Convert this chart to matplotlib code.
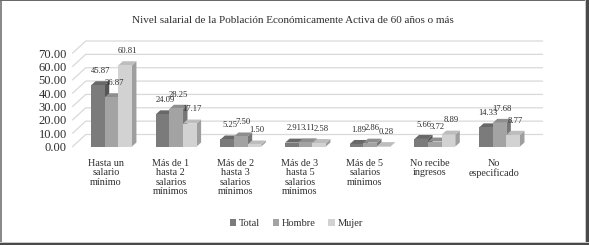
import matplotlib
matplotlib.use("Agg")
import matplotlib.pyplot as plt
from matplotlib.patches import Polygon, Rectangle
from matplotlib.lines import Line2D
import numpy as np

title = "Nivel salarial de la Población Económicamente Activa de 60 años o más"
categories = ["Hasta un\nsalario\nmínimo",
              "Más de 1\nhasta 2\nsalarios\nmínimos",
              "Más de 2\nhasta 3\nsalarios\nmínimos",
              "Más de 3\nhasta 5\nsalarios\nmínimos",
              "Más de 5\nsalarios\nmínimos",
              "No recibe\ningresos",
              "No\nespecificado"]
series_names = ["Total", "Hombre", "Mujer"]
total = [45.87, 24.09, 5.25, 2.91, 1.89, 5.66, 14.33]
hombre = [36.87, 28.25, 7.50, 3.11, 2.86, 3.72, 17.68]
mujer = [60.81, 17.17, 1.50, 2.58, 0.28, 8.89, 8.77]
yticks = [0, 10, 20, 30, 40, 50, 60, 70]

series = [total, hombre, mujer]
front_cols = ["#7b7b7b", "#a3a3a3", "#d2d2d2"]
top_cols = ["#686868", "#8e8e8e", "#bdbdbd"]
side_cols = ["#555555", "#767676", "#9e9e9e"]
txt = "#2e2e2e"
serif = ["Liberation Serif", "DejaVu Serif"]

W, H = 589, 245
fig = plt.figure(figsize=(W / 100, H / 100), dpi=100)

ax_left, ax_w = 73.7, 452.7
ax_bot_px, ax_top_px = 146.5, 53.0
ax = fig.add_axes([ax_left / W, (H - ax_bot_px) / H, ax_w / W, (ax_bot_px - ax_top_px) / H])
ax.set_xlim(-0.5, 6.5)
ax.set_ylim(0, 70)
for s in ax.spines.values():
    s.set_visible(False)
ax.patch.set_alpha(0)

pxx = 1.0 / (ax_w / 7)
pxy = 70.0 / (ax_bot_px - ax_top_px)

# back wall gridlines with side-wall diagonal
wall_dx, wall_dy = 13 * pxx, 12 * pxy
xL = -0.5 - 1 * pxx
xR = 6.5 + 16 * pxx
for yv in yticks:
    ax.add_line(Line2D([xL, xL + wall_dx, xR], [yv, yv + wall_dy, yv + wall_dy],
                       color="#d9d9d9", lw=0.9, clip_on=False, zorder=0))

# bars with pseudo-3D faces
n = len(categories)
x = np.arange(n)
bw = 13.6 * pxx
shift = 5.5 * pxx
ddx, ddy = 4.5 * pxx, 4 * pxy
for i in range(n):
    for k in range(3):
        v = series[k][i]
        x0 = x[i] + shift + (k - 1.5) * bw
        x1 = x0 + bw
        side = Polygon([[x1, 0], [x1 + ddx, ddy], [x1 + ddx, v + ddy], [x1, v]],
                       closed=True, fc=side_cols[k], ec="none", clip_on=False, zorder=2)
        top = Polygon([[x0, v], [x0 + ddx, v + ddy], [x1 + ddx, v + ddy], [x1, v]],
                      closed=True, fc=top_cols[k], ec="none", clip_on=False, zorder=2)
        ax.add_patch(side)
        ax.add_patch(top)
        ax.bar(x0, v, width=bw, align="edge", color=front_cols[k], zorder=2,
               clip_on=False, label=series_names[k] if i == 0 else None)
        ax.annotate(f"{v:.2f}", (x0 + bw / 2 + ddx / 2, v + ddy), xytext=(0, 4.5),
                    textcoords="offset points", ha="center", va="bottom",
                    fontsize=6.2, family=serif, color=txt, zorder=5)

ax.set_yticks(yticks)
ax.set_yticklabels([f"{t:.2f}" for t in yticks], fontsize=9, family=serif, color=txt)
ax.set_xticks(x)
ax.set_xticklabels(categories, fontsize=7.3, family=serif, color=txt, linespacing=1.05)
ax.tick_params(axis="y", length=0, pad=5)
ax.tick_params(axis="x", length=0, pad=9)

fig.text(0.497, 1 - 20.5 / H, title, ha="center", va="center", fontsize=8,
         family=serif, color=txt)

handles = [Rectangle((0, 0), 1, 1, fc=c, ec="none") for c in front_cols]
fig.legend(handles, series_names, loc="center", bbox_to_anchor=(0.503, 1 - 223.5 / H),
           ncol=3, frameon=False, prop={"family": serif, "size": 7.5},
           handlelength=0.6, handleheight=0.6, handletextpad=0.3, columnspacing=1.2,
           labelcolor=txt)

# figure border
def frect(x0, y0, w, h, c):
    fig.patches.append(Rectangle((x0 / W, 1 - (y0 + h) / H), w / W, h / H,
                                 transform=fig.transFigure, fc=c, ec="none", zorder=10))
frect(0, 0, 1.5, H, "#8a8a8a")
frect(0, 0, W, 1.2, "#6a6a6a")
frect(584.5, 0, 1, H, "#c8c8c8")
frect(585.5, 0, 3.5, H, "#4a4a4a")
frect(0, 241.5, W, 1, "#c8c8c8")
frect(0, 242.5, W, 2.5, "#4a4a4a")

fig.savefig("out.png", dpi=100)
